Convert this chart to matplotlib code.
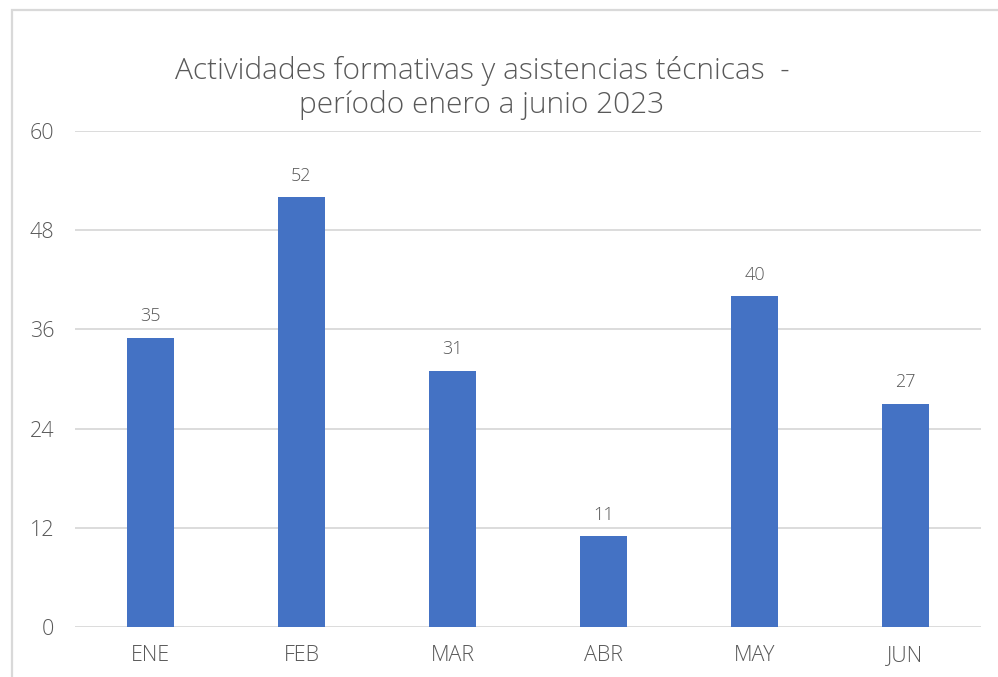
import matplotlib
matplotlib.use("Agg")
import matplotlib.pyplot as plt
from matplotlib.patches import Rectangle

categories = ["ENE", "FEB", "MAR", "ABR", "MAY", "JUN"]
values = [35, 52, 31, 11, 40, 27]
yticks = [0, 12, 24, 36, 48, 60]
title = "Actividades formativas y asistencias técnicas  -\nperíodo enero a junio 2023"

plt.rcParams['font.family'] = ['Open Sans', 'DejaVu Sans']
text_color = "#595959"
bar_color = "#4472C4"
fw = "light"

fig = plt.figure(figsize=(9.98, 6.77), dpi=100)
fig.patch.set_facecolor("white")
fig.patches.append(Rectangle((12/998, -0.1), 1.2, (1 - 10/677) + 0.1,
                             transform=fig.transFigure, fill=False,
                             edgecolor="#d9d9d9", linewidth=1.6))

ax = fig.add_axes([75/998, 1 - 627/677, (981 - 75)/998, (627 - 131)/677])
x = list(range(len(categories)))
bars = ax.bar(x, values, width=0.31, color=bar_color, zorder=3)
ax.set_xlim(-0.5, len(categories) - 0.5)
ax.set_ylim(0, 60)
ax.set_yticks(yticks)
ax.set_xticks(x)
ax.set_xticklabels(categories)
ax.grid(axis="y", color="#d9d9d9", linewidth=1.3, zorder=0)
for s in ax.spines.values():
    s.set_visible(False)
ax.tick_params(axis="both", length=0, labelsize=15.5, colors=text_color)
ax.tick_params(axis="y", pad=15)
ax.tick_params(axis="x", pad=13)
for lbl in ax.get_xticklabels() + ax.get_yticklabels():
    lbl.set_fontweight(fw)
ax.bar_label(bars, labels=[str(v) for v in values], padding=9, fontsize=13,
             color=text_color, fontweight=fw)
ax.set_facecolor("white")

fig.text(482/998, 1 - 88/677, title, ha="center", va="center", fontsize=21.5,
         color=text_color, fontweight=fw, linespacing=1.15)

fig.savefig("out.png", dpi=100)
